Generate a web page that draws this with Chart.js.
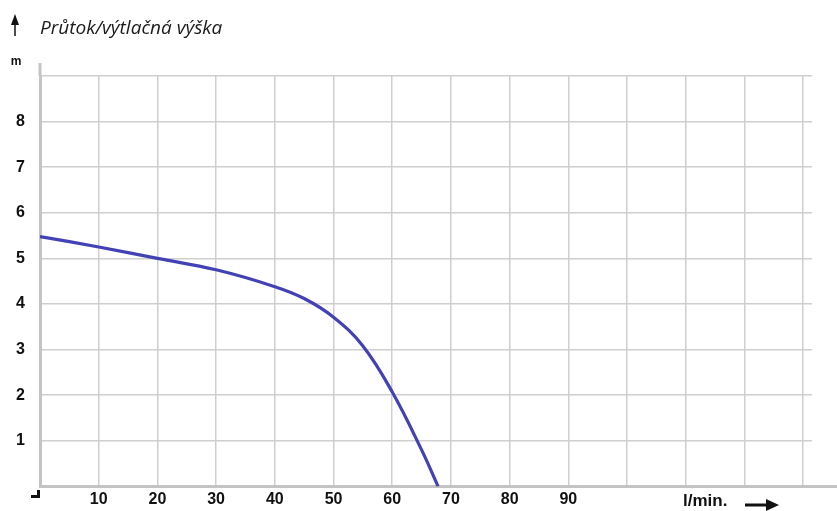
<!DOCTYPE html>
<html>
<head>
<meta charset="utf-8">
<script src="https://cdn.jsdelivr.net/npm/chart.js@4"></script>
<style>
  html, body { margin: 0; padding: 0; background: #fff; }
  #wrap { width: 837px; height: 511px; position: relative; }
</style>
</head>
<body>
<div id="wrap"><canvas id="pumpChart"></canvas></div>
<script>
// flow (l/min) vs. head (m)
const flowValues = [0, 10, 20, 30, 40, 45, 50, 55, 60, 65, 67.8];
const headValues = [5.48, 5.25, 5.0, 4.75, 4.38, 4.12, 3.71, 3.08, 2.07, 0.8, 0];
const xTicks = [0, 10, 20, 30, 40, 50, 60, 70, 80, 90, 100, 110, 120, 130];
const xLabels = [10, 20, 30, 40, 50, 60, 70, 80, 90];
const yTicks = [0, 1, 2, 3, 4, 5, 6, 7, 8, 9];
const yLabels = [1, 2, 3, 4, 5, 6, 7, 8];

const titleText = 'Průtok/výtlačná výška';
const yUnit = 'm';
const xUnit = 'l/min.';

// --- extra decorations (title, arrows, units) ---
const decorations = {
    id: 'decorations',
    afterDraw(chart) {
        const ctx = chart.ctx;
        const area = chart.chartArea;
        ctx.save();

        // axis extensions
        ctx.strokeStyle = '#c4c4c4';
        ctx.lineWidth = 3;
        ctx.beginPath();
        ctx.moveTo(area.left, area.top);
        ctx.lineTo(area.left, 63);
        ctx.moveTo(area.right, area.bottom);
        ctx.lineTo(837, area.bottom);
        ctx.stroke();

        // corner mark
        ctx.fillStyle = '#111';
        ctx.fillRect(37, 490, 3, 8);
        ctx.fillRect(31, 495, 9, 3);

        // title with up arrow
        ctx.strokeStyle = '#111';
        ctx.lineWidth = 1.5;
        ctx.beginPath();
        ctx.moveTo(15, 36);
        ctx.lineTo(15, 22);
        ctx.stroke();
        ctx.beginPath();
        ctx.moveTo(15, 14);
        ctx.lineTo(11, 25);
        ctx.lineTo(19, 25);
        ctx.closePath();
        ctx.fill();

        ctx.fillStyle = '#1a1a1a';
        ctx.font = "italic 19px 'Open Sans'";
        ctx.textBaseline = 'alphabetic';
        ctx.textAlign = 'left';
        ctx.fillText(titleText, 40, 34);

        // y unit
        ctx.font = "bold 12px 'Liberation Sans'";
        ctx.textAlign = 'center';
        ctx.textBaseline = 'middle';
        ctx.fillStyle = '#111';
        ctx.fillText(yUnit, 16, 62);

        // x unit with arrow
        ctx.font = "bold 17px 'Liberation Sans'";
        ctx.textAlign = 'left';
        ctx.fillText(xUnit, 683, 501);
        ctx.lineWidth = 3;
        ctx.beginPath();
        ctx.moveTo(745, 505);
        ctx.lineTo(768, 505);
        ctx.stroke();
        ctx.beginPath();
        ctx.moveTo(779, 505);
        ctx.lineTo(766, 499);
        ctx.lineTo(766, 511);
        ctx.closePath();
        ctx.fill();

        ctx.restore();
    }
};

new Chart(document.getElementById('pumpChart'), {
    type: 'line',
    data: {
        datasets: [{
            data: flowValues.map((x, i) => ({ x: x, y: headValues[i] })),
            borderColor: '#4242b6',
            borderWidth: 3.2,
            pointRadius: 0,
            fill: false,
            tension: 0.4
        }]
    },
    options: {
        responsive: true,
        maintainAspectRatio: false,
        animation: false,
        layout: { padding: { top: 76, right: 25, left: 0, bottom: 0 } },
        plugins: { legend: { display: false }, tooltip: { enabled: false } },
        scales: {
            x: {
                type: 'linear',
                min: 0,
                max: 131.5,
                afterBuildTicks: s => { s.ticks = xTicks.map(v => ({ value: v })); },
                afterFit: s => { s.height = 24; },
                grid: { color: '#cfcfcf', lineWidth: 1.5, drawTicks: false },
                border: { color: '#c4c4c4', width: 3 },
                ticks: {
                    padding: 4,
                    color: '#111',
                    font: { family: 'Liberation Sans', size: 16, weight: 'bold' },
                    maxRotation: 0,
                    autoSkip: false,
                    callback: v => xLabels.includes(v) ? String(v) : ''
                }
            },
            y: {
                min: 0,
                max: 9,
                afterBuildTicks: s => { s.ticks = yTicks.map(v => ({ value: v })); },
                afterFit: s => { s.width = 40; },
                grid: { color: '#cfcfcf', lineWidth: 1.5, drawTicks: false },
                border: { color: '#c4c4c4', width: 3 },
                ticks: {
                    padding: 15,
                    color: '#111',
                    font: { family: 'Liberation Sans', size: 16, weight: 'bold' },
                    autoSkip: false,
                    callback: v => yLabels.includes(v) ? String(v) : ''
                }
            }
        }
    },
    plugins: [decorations]
});
</script>
</body>
</html>
